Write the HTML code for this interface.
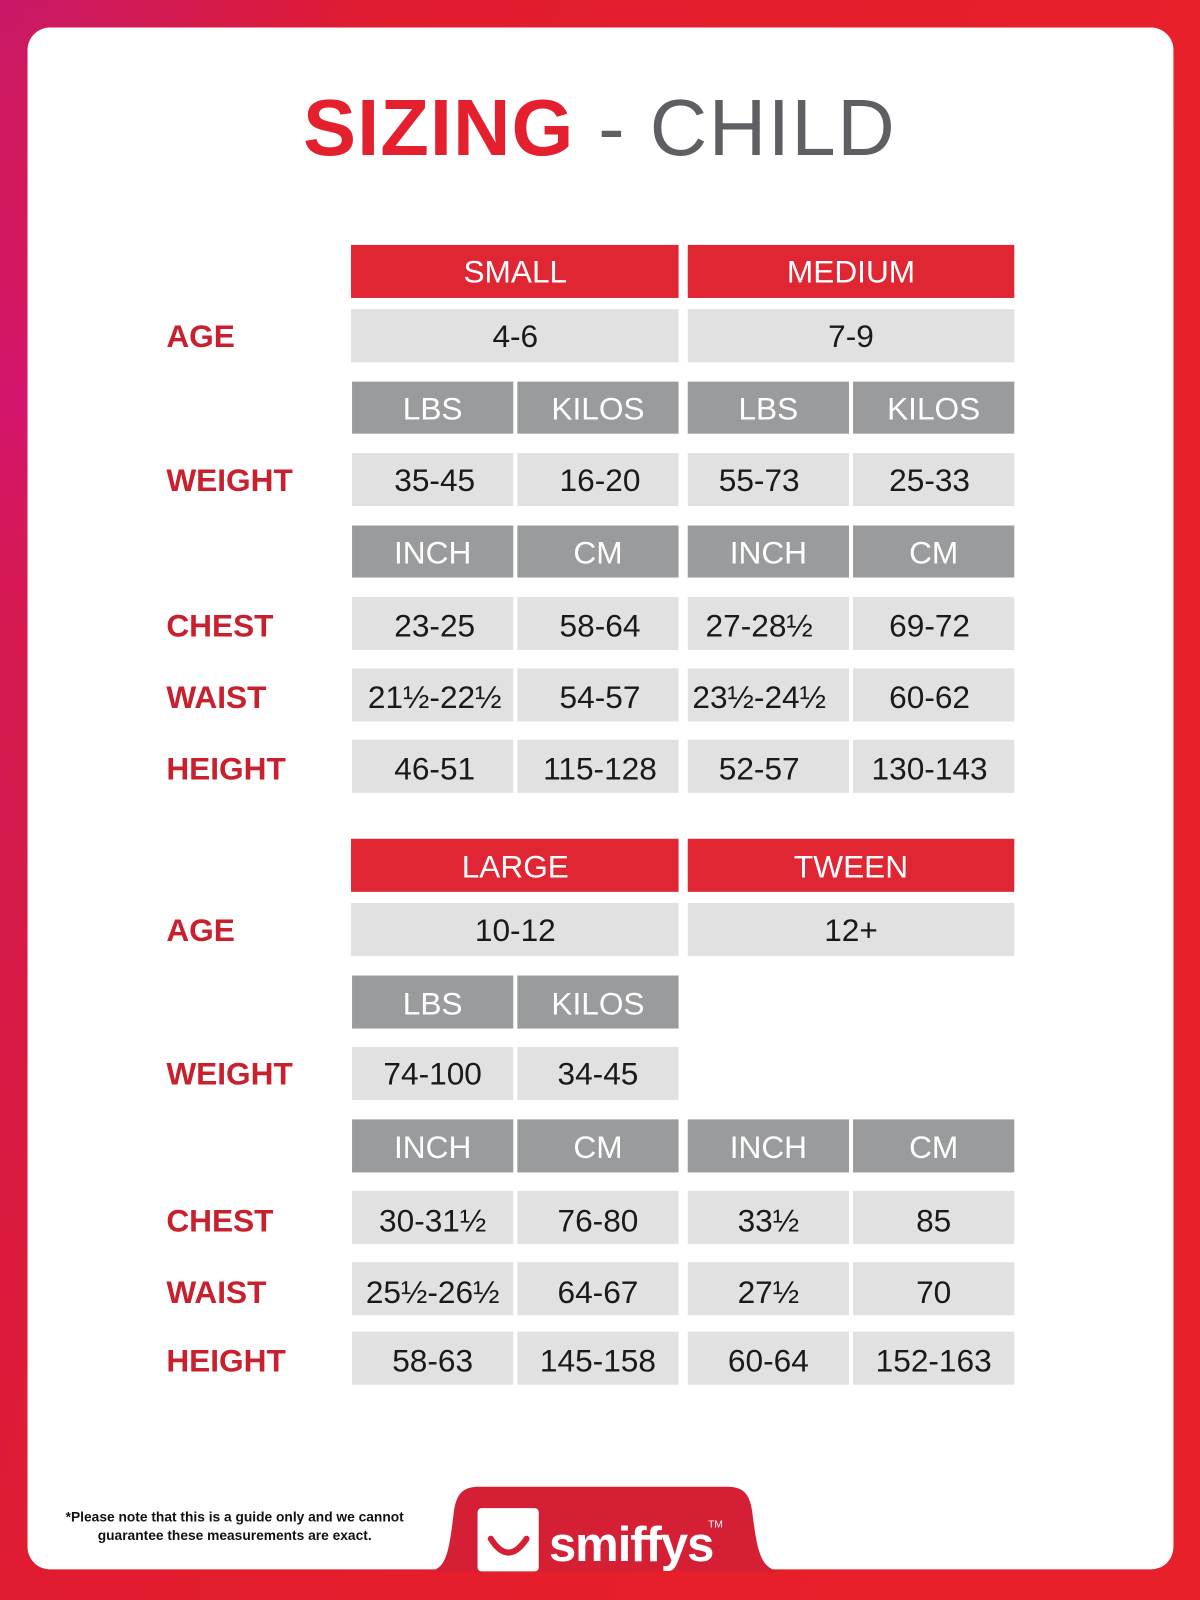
<!DOCTYPE html>
<html><head><meta charset="utf-8"><style>
html,body{margin:0;padding:0;width:1200px;height:1600px;overflow:hidden}
svg{display:block}
text{font-family:"Liberation Sans",sans-serif}
.v{font-size:31px;fill:#1a1a1a;text-anchor:middle}
.h{font-size:31px;fill:#fff;text-anchor:middle}
.l{font-size:31px;fill:#c8202d;font-weight:bold}
.c{fill:#e1e1e1}.g{fill:#9a9b9d}.r{fill:#e02633}
</style></head><body>
<svg width="1200" height="1600" viewBox="0 0 1176 1568" preserveAspectRatio="none">
<defs>
<linearGradient id="bg" x1="0" y1="0" x2="1" y2="0.3">
<stop offset="0" stop-color="#c8186a"/><stop offset="0.3" stop-color="#e11c2e"/><stop offset="1" stop-color="#e8202a"/>
</linearGradient>
<linearGradient id="bg2" x1="0" y1="0" x2="0" y2="1">
<stop offset="0" stop-color="#e8202a" stop-opacity="0"/><stop offset="0.25" stop-color="#d8127a" stop-opacity="0.6"/><stop offset="0.5" stop-color="#ee1c2e" stop-opacity="0"/>
</linearGradient>
</defs>
<rect width="1176" height="1568" fill="url(#bg)"/>
<rect width="60" height="1568" fill="url(#bg2)"/>
<rect x="27" y="27" width="1123" height="1511" rx="22" fill="#fff"/>
<text x="297" y="152" style="font-size:78px"><tspan fill="#e5202e" font-weight="bold" letter-spacing="1">SIZING</tspan><tspan fill="#5d5f63" letter-spacing="1.5"> - CHILD</tspan></text>

<!-- block 1 -->
<rect class="r" x="344" y="240" width="321" height="52"/><rect class="r" x="674" y="240" width="320" height="52"/>
<text class="h" x="505" y="277">SMALL</text><text class="h" x="834" y="277">MEDIUM</text>
<text class="l" x="163" y="340">AGE</text>
<rect class="c" x="344" y="303" width="321" height="52"/><rect class="c" x="674" y="303" width="320" height="52"/>
<text class="v" x="505" y="340">4-6</text><text class="v" x="834" y="340">7-9</text>
<rect class="g" x="345" y="374" width="158" height="51"/><rect class="g" x="507" y="374" width="158" height="51"/><rect class="g" x="674" y="374" width="158" height="51"/><rect class="g" x="836" y="374" width="158" height="51"/>
<text class="h" x="424" y="411">LBS</text><text class="h" x="586" y="411">KILOS</text><text class="h" x="753" y="411">LBS</text><text class="h" x="915" y="411">KILOS</text>
<text class="l" x="163" y="481">WEIGHT</text>
<rect class="c" x="345" y="444" width="158" height="52"/><rect class="c" x="507" y="444" width="158" height="52"/><rect class="c" x="674" y="444" width="158" height="52"/><rect class="c" x="836" y="444" width="158" height="52"/>
<text class="v" x="426" y="481">35-45</text><text class="v" x="588" y="481">16-20</text><text class="v" x="744" y="481">55-73</text><text class="v" x="911" y="481">25-33</text>
<rect class="g" x="345" y="515" width="158" height="51"/><rect class="g" x="507" y="515" width="158" height="51"/><rect class="g" x="674" y="515" width="158" height="51"/><rect class="g" x="836" y="515" width="158" height="51"/>
<text class="h" x="424" y="552">INCH</text><text class="h" x="586" y="552">CM</text><text class="h" x="753" y="552">INCH</text><text class="h" x="915" y="552">CM</text>
<text class="l" x="163" y="624">CHEST</text>
<rect class="c" x="345" y="585" width="158" height="52"/><rect class="c" x="507" y="585" width="158" height="52"/><rect class="c" x="674" y="585" width="158" height="52"/><rect class="c" x="836" y="585" width="158" height="52"/>
<text class="v" x="426" y="624">23-25</text><text class="v" x="588" y="624">58-64</text><text class="v" x="744" y="624">27-28½</text><text class="v" x="911" y="624">69-72</text>
<text class="l" x="163" y="694">WAIST</text>
<rect class="c" x="345" y="655" width="158" height="52"/><rect class="c" x="507" y="655" width="158" height="52"/><rect class="c" x="674" y="655" width="158" height="52"/><rect class="c" x="836" y="655" width="158" height="52"/>
<text class="v" x="426" y="694">21½-22½</text><text class="v" x="588" y="694">54-57</text><text class="v" x="744" y="694">23½-24½</text><text class="v" x="911" y="694">60-62</text>
<text class="l" x="163" y="764">HEIGHT</text>
<rect class="c" x="345" y="725" width="158" height="52"/><rect class="c" x="507" y="725" width="158" height="52"/><rect class="c" x="674" y="725" width="158" height="52"/><rect class="c" x="836" y="725" width="158" height="52"/>
<text class="v" x="426" y="764">46-51</text><text class="v" x="588" y="764">115-128</text><text class="v" x="744" y="764">52-57</text><text class="v" x="911" y="764">130-143</text>

<!-- block 2 -->
<rect class="r" x="344" y="822" width="321" height="52"/><rect class="r" x="674" y="822" width="320" height="52"/>
<text class="h" x="505" y="860">LARGE</text><text class="h" x="834" y="860">TWEEN</text>
<text class="l" x="163" y="922">AGE</text>
<rect class="c" x="344" y="885" width="321" height="52"/><rect class="c" x="674" y="885" width="320" height="52"/>
<text class="v" x="505" y="922">10-12</text><text class="v" x="834" y="922">12+</text>
<rect class="g" x="345" y="956" width="158" height="52"/><rect class="g" x="507" y="956" width="158" height="52"/>
<text class="h" x="424" y="994">LBS</text><text class="h" x="586" y="994">KILOS</text>
<text class="l" x="163" y="1063">WEIGHT</text>
<rect class="c" x="345" y="1026" width="158" height="52"/><rect class="c" x="507" y="1026" width="158" height="52"/>
<text class="v" x="424" y="1063">74-100</text><text class="v" x="586" y="1063">34-45</text>
<rect class="g" x="345" y="1097" width="158" height="52"/><rect class="g" x="507" y="1097" width="158" height="52"/><rect class="g" x="674" y="1097" width="158" height="52"/><rect class="g" x="836" y="1097" width="158" height="52"/>
<text class="h" x="424" y="1135">INCH</text><text class="h" x="586" y="1135">CM</text><text class="h" x="753" y="1135">INCH</text><text class="h" x="915" y="1135">CM</text>
<text class="l" x="163" y="1207">CHEST</text>
<rect class="c" x="345" y="1167" width="158" height="52"/><rect class="c" x="507" y="1167" width="158" height="52"/><rect class="c" x="674" y="1167" width="158" height="52"/><rect class="c" x="836" y="1167" width="158" height="52"/>
<text class="v" x="424" y="1207">30-31½</text><text class="v" x="586" y="1207">76-80</text><text class="v" x="753" y="1207">33½</text><text class="v" x="915" y="1207">85</text>
<text class="l" x="163" y="1277">WAIST</text>
<rect class="c" x="345" y="1237" width="158" height="52"/><rect class="c" x="507" y="1237" width="158" height="52"/><rect class="c" x="674" y="1237" width="158" height="52"/><rect class="c" x="836" y="1237" width="158" height="52"/>
<text class="v" x="424" y="1277">25½-26½</text><text class="v" x="586" y="1277">64-67</text><text class="v" x="753" y="1277">27½</text><text class="v" x="915" y="1277">70</text>
<text class="l" x="163" y="1344">HEIGHT</text>
<rect class="c" x="345" y="1305" width="158" height="52"/><rect class="c" x="507" y="1305" width="158" height="52"/><rect class="c" x="674" y="1305" width="158" height="52"/><rect class="c" x="836" y="1305" width="158" height="52"/>
<text class="v" x="424" y="1344">58-63</text><text class="v" x="586" y="1344">145-158</text><text class="v" x="753" y="1344">60-64</text><text class="v" x="915" y="1344">152-163</text>

<!-- footer -->
<text x="230" y="1491" text-anchor="middle" style="font-size:13.5px;font-weight:bold;fill:#111">*Please note that this is a guide only and we cannot</text>
<text x="230" y="1509" text-anchor="middle" style="font-size:13.5px;font-weight:bold;fill:#111">guarantee these measurements are exact.</text>
<path d="M420 1540 C438 1538 440 1520 445 1480 C448 1462 455 1457 470 1457 L712 1457 C727 1457 734 1462 737 1480 C742 1520 745 1538 765 1540 Z" fill="#d41f35"/>
<rect x="468" y="1478" width="60" height="62" rx="4" fill="#fff"/>
<path d="M481 1508 Q498 1535 516 1508" stroke="#d41f35" stroke-width="6" fill="none" stroke-linecap="round"/>
<text x="538" y="1530" style="font-size:48px;font-weight:bold;fill:#fff;letter-spacing:-1px">smiffys</text>
<text x="694" y="1497" style="font-size:10px;fill:#fff">TM</text>
</svg>
</body></html>
